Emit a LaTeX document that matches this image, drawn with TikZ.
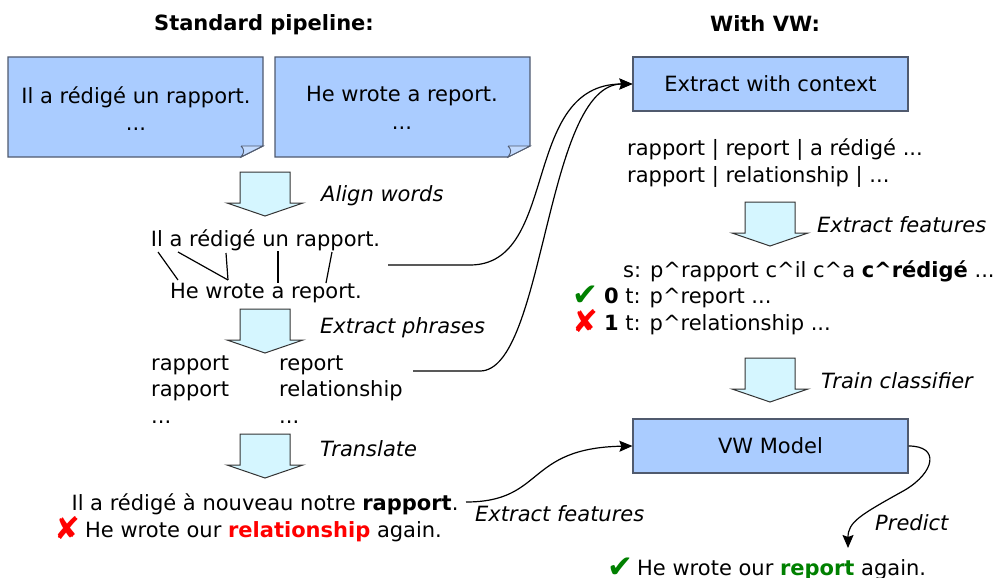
\documentclass[tikz,border=0pt]{standalone}
\usepackage{fontspec}
\setmainfont{DejaVu Sans}
\usetikzlibrary{arrows.meta}
\definecolor{boxblue}{RGB}{170,204,255}
\definecolor{boxline}{RGB}{80,90,110}
\definecolor{arrowfill}{RGB}{213,246,255}
\definecolor{okgreen}{RGB}{0,128,0}
\definecolor{badred}{RGB}{255,0,0}
\tikzset{
    txt/.style={inner sep=0pt, font=\fontsize{21}{25}\selectfont},
    lbl/.style={inner sep=0pt, font=\fontsize{21}{25}\selectfont\itshape},
    headline/.style={inner sep=0pt, font=\fontsize{21}{25}\selectfont\bfseries},
    tickmark/.style={inner sep=0pt, font=\fontsize{31}{35}\selectfont},
    docbox/.style={draw=boxline, fill=boxblue, line width=1.2pt, line join=miter},
    docfold/.style={draw=boxline, fill=boxblue!70!white, line width=0.9pt},
    stepbox/.style={draw=boxline, fill=boxblue, line width=1.2pt, minimum width=275pt, minimum height=54pt, inner sep=0pt, font=\fontsize{21}{25}\selectfont},
    link/.style={line width=1.2pt, -{Stealth[length=13pt, width=11pt, inset=2pt]}},
    alignline/.style={line width=1.2pt},
    blockarrow/.pic={
        \draw[fill=arrowfill, draw=black!80, line width=1pt, line join=miter]
            (-25,0) -- (25,0) -- (25,31) -- (38,31) -- (0,44) -- (-38,31) -- (-25,31) -- cycle;
    }
}
\begin{document}
\begin{tikzpicture}[x=1pt, y=-1pt]
            \useasboundingbox (0,0) rectangle (999,578);

            %%titles
            \node[headline, anchor=base] (stdtitle) at (264,31){Standard pipeline:};
            \node[headline, anchor=base] (vwtitle) at (765,32){With VW:};

            %%the two documents
            \draw[docbox] (8,57) -- (263,57) -- (263,146) -- (241,157) -- (8,157) -- cycle;
                \draw[docfold] (241,146) -- (263,146) -- (241,157) .. controls (245,152) and (244,149) .. (241,146);
                \node[txt, anchor=base] (frdoc) at (136,103){Il a rédigé un rapport.};
                \node[txt, anchor=base] (frdots) at (136,130){...};
            \draw[docbox] (275,57) -- (530,57) -- (530,146) -- (508,157) -- (275,157) -- cycle;
                \draw[docfold] (508,146) -- (530,146) -- (508,157) .. controls (512,152) and (511,149) .. (508,146);
                \node[txt, anchor=base] (endoc) at (402,102){He wrote a report.};
                \node[txt, anchor=base] (endots) at (402,129){...};

            %%standard pipeline
            \pic at (265,172){blockarrow};
                \node[lbl, anchor=base west] (alignlbl) at (321,201){Align words};
            \node[txt, anchor=base] (alnfr) at (265.5,246){Il a rédigé un rapport.};
            \node[txt, anchor=base] (alnen) at (266,298){He wrote a report.};
                \coordinate (frIl) at (158,252);
                \coordinate (fra) at (178,252);
                \coordinate (frredige) at (226,253);
                \coordinate (frun) at (278,251);
                \coordinate (frrapport) at (332,252);
                \coordinate (enHe) at (178,280);
                \coordinate (enwrote) at (228,280);
                \coordinate (ena) at (278,283);
                \coordinate (enreport) at (326,283);
                \draw[alignline] (frIl) to (enHe);
                \draw[alignline] (fra) to (enwrote);
                \draw[alignline] (frredige) to (enwrote);
                \draw[alignline] (frun) to (ena);
                \draw[alignline] (frrapport) to (enreport);

            \pic at (265,309){blockarrow};
                \node[lbl, anchor=base west] (phraselbl) at (320,333){Extract phrases};
            \node[txt, anchor=base west] (srcone) at (151,370){rapport};
            \node[txt, anchor=base west] (srctwo) at (151,396){rapport};
            \node[txt, anchor=base west] (srcdots) at (151,423){...};
            \node[txt, anchor=base west] (tgtone) at (279,370){report};
            \node[txt, anchor=base west] (tgttwo) at (279,396){relationship};
            \node[txt, anchor=base west] (tgtdots) at (279,423){...};

            \pic at (265,434){blockarrow};
                \node[lbl, anchor=base west] (translbl) at (320,456){Translate};
            \node[txt, anchor=base] (frout) at (265,510){Il a rédigé à nouveau notre \textbf{rapport}.};
            \node[tickmark, anchor=base west, text=badred] (badmark) at (54,539){✘};
            \node[txt, anchor=base west] (badout) at (85,537){He wrote our \textbf{\color{badred}relationship} again.};

            %%with VW
            \node[stepbox] (extract) at (770.5,84){Extract with context};
            \node[txt, anchor=base west] (ctxone) at (627,155){rapport | report | a rédigé ...};
            \node[txt, anchor=base west] (ctxtwo) at (627,182){rapport | relationship | ...};

            \pic at (770,202){blockarrow};
                \node[lbl, anchor=base west] (featlbl) at (817,232){Extract features};
            \node[txt, anchor=base west] (srcfeat) at (623,277){s: p\textasciicircum rapport c\textasciicircum il c\textasciicircum a \textbf{c\textasciicircum rédigé} ...};
            \node[tickmark, anchor=base west, text=okgreen] (okmark) at (572,305){✔};
            \node[txt, anchor=base west] (tgtzero) at (604,303){\textbf{0} t: p\textasciicircum report ...};
            \node[tickmark, anchor=base west, text=badred] (nomark) at (572,332){✘};
            \node[txt, anchor=base west] (tgtunit) at (604,330){\textbf{1} t: p\textasciicircum relationship ...};

            \pic at (770,358){blockarrow};
                \node[lbl, anchor=base west] (trainlbl) at (821,388){Train classifier};
            \node[stepbox] (vwmodel) at (770.5,446){VW Model};

            \coordinate (alnout) at (388,265);
            \coordinate (phrout) at (413,371);
            \coordinate (transout) at (466,502);
            \coordinate (predtip) at (848,548);

            %%draw the connectors
            \draw[link] (alnout) -- (470,265) .. controls (560,265) and (520,84) .. (extract.west);
            \draw[link] (phrout) -- (480,371) .. controls (545,371) and (545,84) .. (extract.west);
            \draw[link] (transout) .. controls (545,502) and (525,448) .. (vwmodel.west);
                \node[lbl, anchor=base west] (featlbltwo) at (475,521){Extract features};
            \draw[link] (vwmodel.east) .. controls (940,446) and (935,472) .. (905,490)
                .. controls (860,515) and (848,522) .. (predtip);
                \node[lbl, anchor=base west] (predlbl) at (875,530){Predict};
            \node[tickmark, anchor=base west, text=okgreen] (goodmark) at (607,577){✔};
            \node[txt, anchor=base west] (goodout) at (637,575){He wrote our \textbf{\color{okgreen}report} again.};

\end{tikzpicture}
\end{document}
